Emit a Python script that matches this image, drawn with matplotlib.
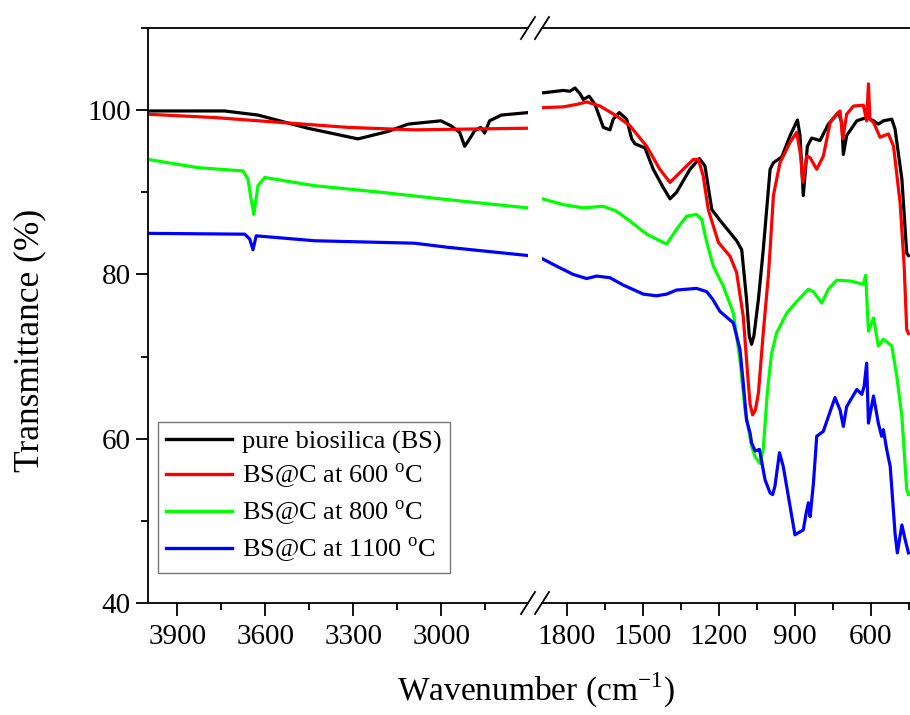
import matplotlib
matplotlib.use("Agg")
import matplotlib.pyplot as plt
from matplotlib.ticker import MultipleLocator
import matplotlib.lines as mlines

plt.rcParams['font.family'] = ['Liberation Serif', 'DejaVu Serif']
plt.rcParams['mathtext.fontset'] = 'custom'
plt.rcParams['mathtext.rm'] = 'Liberation Serif'

# ---- data (wavenumber cm-1, transmittance %) ----
# high-wavenumber window (left panel)
black_l_wn = [4000, 3739, 3625, 3455, 3284, 3182, 3113, 3001, 2967, 2937, 2920, 2903, 2886, 2865, 2852, 2835, 2795, 2704]
black_l_t = [99.9, 99.9, 99.4, 97.8, 96.5, 97.4, 98.3, 98.7, 98.1, 97.3, 95.6, 96.5, 97.5, 97.9, 97.2, 98.7, 99.4, 99.7]

red_l_wn = [4000, 3773, 3547, 3318, 3091, 2704]
red_l_t = [99.5, 99.1, 98.5, 97.9, 97.6, 97.8]

green_l_wn = [4000, 3830, 3676, 3659, 3650, 3639, 3625, 3602, 3432, 3205, 2977, 2704]
green_l_t = [94.0, 93.0, 92.6, 91.6, 89.5, 87.3, 90.8, 91.8, 90.8, 90.0, 89.1, 88.1]

blue_l_wn = [4000, 3670, 3653, 3642, 3631, 3432, 3091, 2977, 2704]
blue_l_t = [85.0, 84.9, 84.3, 83.0, 84.7, 84.1, 83.8, 83.3, 82.3]

# fingerprint window (right panel)
black_r_wn = [1896, 1814, 1788, 1768, 1748, 1735, 1712, 1689, 1656, 1630, 1617, 1593, 1564, 1544, 1531,
              1492, 1459, 1420, 1393, 1367, 1314, 1277, 1255, 1228, 1196, 1130, 1110, 1091, 1080, 1071,
              1062, 1044, 1025, 998, 985, 952, 919, 890, 880, 867, 851, 834, 801, 768, 729, 715, 709,
              696, 656, 617, 590, 571, 551, 518, 505, 478, 459, 452]
black_r_t = [102.1, 102.4, 102.3, 102.7, 102.0, 101.3, 101.7, 100.7, 97.9, 97.6, 98.9, 99.7, 98.9, 96.5, 95.9,
             95.4, 92.8, 90.6, 89.2, 90.0, 92.8, 94.1, 93.2, 87.9, 86.6, 84.1, 83.0, 77.0, 72.5, 71.5,
             72.5, 77.0, 83.0, 92.8, 93.6, 94.3, 96.9, 98.8, 96.9, 89.6, 95.6, 96.6, 96.3, 98.3, 99.7, 98.5, 94.6,
             96.9, 98.7, 99.1, 98.7, 98.3, 98.7, 98.9, 97.7, 91.6, 82.6, 82.3]

red_r_wn = [1896, 1814, 1761, 1722, 1669, 1604, 1551, 1485, 1433, 1393, 1354, 1301, 1281, 1262, 1242,
            1202, 1156, 1130, 1104, 1084, 1077, 1067, 1056, 1044, 1025, 1005, 998, 985, 959, 919, 893,
            877, 869, 853, 840, 814, 788, 761, 735, 722, 711, 696, 669, 630, 617, 610, 604, 590, 564,
            531, 511, 485, 469, 459, 452]
red_r_t = [100.3, 100.4, 100.7, 101.0, 100.5, 99.3, 98.1, 95.6, 92.8, 91.2, 92.4, 94.0, 94.0, 92.0, 87.9,
           83.9, 82.2, 80.2, 74.9, 66.8, 64.2, 62.9, 63.5, 65.6, 72.9, 79.8, 83.0, 89.6, 93.6, 96.1, 97.3,
           94.4, 91.2, 94.4, 94.2, 92.8, 94.4, 98.5, 99.5, 99.9, 96.5, 99.5, 100.5, 100.6, 98.7, 103.2, 98.9, 98.5, 96.7,
           97.1, 95.6, 88.7, 81.0, 73.3, 72.8]

green_r_wn = [1896, 1814, 1735, 1656, 1604, 1551, 1485, 1433, 1406, 1367, 1327, 1288, 1268, 1248, 1222,
              1183, 1143, 1117, 1097, 1071, 1057, 1038, 1025, 1011, 1005, 992, 972, 932, 893, 847, 827,
              794, 768, 735, 682, 630, 621, 610, 590, 571, 551, 518, 498, 478, 459, 452]
green_r_t = [89.2, 88.5, 88.1, 88.3, 87.7, 86.5, 84.9, 84.1, 83.7, 85.5, 87.1, 87.3, 86.7, 83.9, 81.0,
             78.6, 75.3, 69.6, 63.5, 59.1, 57.8, 57.0, 58.7, 64.8, 66.8, 70.4, 72.9, 75.3, 76.7, 78.2, 77.9,
             76.5, 78.2, 79.3, 79.2, 78.8, 79.9, 73.1, 74.7, 71.3, 72.1, 71.3, 67.6, 62.7, 53.8, 53.2]

blue_r_wn = [1896, 1840, 1775, 1722, 1682, 1630, 1577, 1498, 1446, 1406, 1367, 1288, 1248, 1225, 1196,
             1143, 1117, 1104, 1091, 1077, 1071, 1057, 1040, 1018, 998, 988, 979, 961, 946, 926, 900,
             867, 856, 847, 840, 827, 814, 788, 768, 742, 722, 709, 696, 656, 636, 627, 617, 610, 590,
             571, 558, 551, 538, 524, 505, 496, 478, 465, 452]
blue_r_t = [81.9, 81.0, 80.0, 79.5, 79.8, 79.6, 78.7, 77.6, 77.4, 77.6, 78.1, 78.3, 77.9, 77.0, 75.5,
            74.1, 70.9, 66.8, 62.3, 60.7, 59.5, 58.5, 58.7, 55.0, 53.4, 53.2, 54.2, 58.3, 56.6, 53.0, 48.3,
            48.9, 50.9, 52.2, 50.5, 54.6, 60.3, 60.9, 62.7, 65.0, 63.5, 61.5, 63.9, 66.0, 65.4, 66.4, 69.2, 61.9, 65.2,
            61.9, 60.3, 61.1, 58.7, 56.6, 48.5, 46.1, 49.5, 47.7, 46.1]

labels = ['pure biosilica (BS)', r'BS@C at 600 $^{\mathrm{o}}$C',
          r'BS@C at 800 $^{\mathrm{o}}$C', r'BS@C at 1100 $^{\mathrm{o}}$C']
colors = ['#000000', '#ff0000', '#00ff00', '#0000ff']

W, H = 910, 715
fig = plt.figure(figsize=(9.1, 7.15), dpi=100)
ax1 = fig.add_axes([148 / W, 1 - 603 / H, (528 - 148) / W, 575 / H])
ax2 = fig.add_axes([542 / W, 1 - 603 / H, (910 - 542) / W, 575 / H])

lw = 2.3
left = [(black_l_wn, black_l_t), (red_l_wn, red_l_t), (green_l_wn, green_l_t), (blue_l_wn, blue_l_t)]
right = [(black_r_wn, black_r_t), (red_r_wn, red_r_t), (green_r_wn, green_r_t), (blue_r_wn, blue_r_t)]
for (x, y), c in zip(left, colors):
    ax1.plot(x, y, color=c, lw=lw)
for (x, y), c in zip(right, colors):
    ax2.plot(x, y, color=c, lw=lw)

ax1.set_xlim(4000, 2704)
ax2.set_xlim(1898, 446)
for ax in (ax1, ax2):
    ax.set_ylim(40, 110)
    for s in ax.spines.values():
        s.set_linewidth(1.3)
    ax.tick_params(axis='both', which='major', direction='out', length=9, width=1.3,
                   labelsize=21, top=False, right=False)
    ax.tick_params(axis='both', which='minor', direction='out', length=5, width=1.3,
                   top=False, right=False)

ax1.spines['right'].set_visible(False)
ax2.spines['left'].set_visible(False)
ax2.spines['right'].set_visible(False)
ax1.xaxis.set_major_locator(MultipleLocator(300))
ax1.xaxis.set_minor_locator(MultipleLocator(150))
ax2.xaxis.set_major_locator(MultipleLocator(300))
ax2.xaxis.set_minor_locator(MultipleLocator(150))
ax1.yaxis.set_major_locator(MultipleLocator(20))
ax1.yaxis.set_minor_locator(MultipleLocator(10))
ax2.tick_params(axis='y', which='both', left=False, labelleft=False)
ax1.tick_params(axis='x', pad=6)
ax2.tick_params(axis='x', pad=6)

# axis titles
fig.text(30 / W, 1 - 340 / H, 'Transmittance (%)', fontsize=25.5, rotation=90,
         ha='center', va='center')
fig.text(536 / W, 1 - 690 / H, r'Wavenumber (cm$^{\mathrm{-1}}$)', fontsize=24,
         ha='center', va='center')

# axis break marks
for yc in (28, 603):
    for xc in (528, 542):
        fig.add_artist(mlines.Line2D([(xc - 7) / W, (xc + 7) / W],
                                     [1 - (yc + 11) / H, 1 - (yc - 11) / H],
                                     color='black', lw=1.3))

handles = [mlines.Line2D([], [], color=c, lw=2.4) for c in colors]
leg = ax1.legend(handles, labels, loc='lower left', bbox_to_anchor=(158 / W, 1 - 573 / H),
                 bbox_transform=fig.transFigure, borderaxespad=0, fontsize=19,
                 fancybox=False, edgecolor='#555555', handlelength=2.5, handletextpad=0.4,
                 labelspacing=0.3, borderpad=0.3, frameon=True)
leg.get_frame().set_linewidth(1.0)

fig.savefig('out.png', dpi=100, facecolor='white')
